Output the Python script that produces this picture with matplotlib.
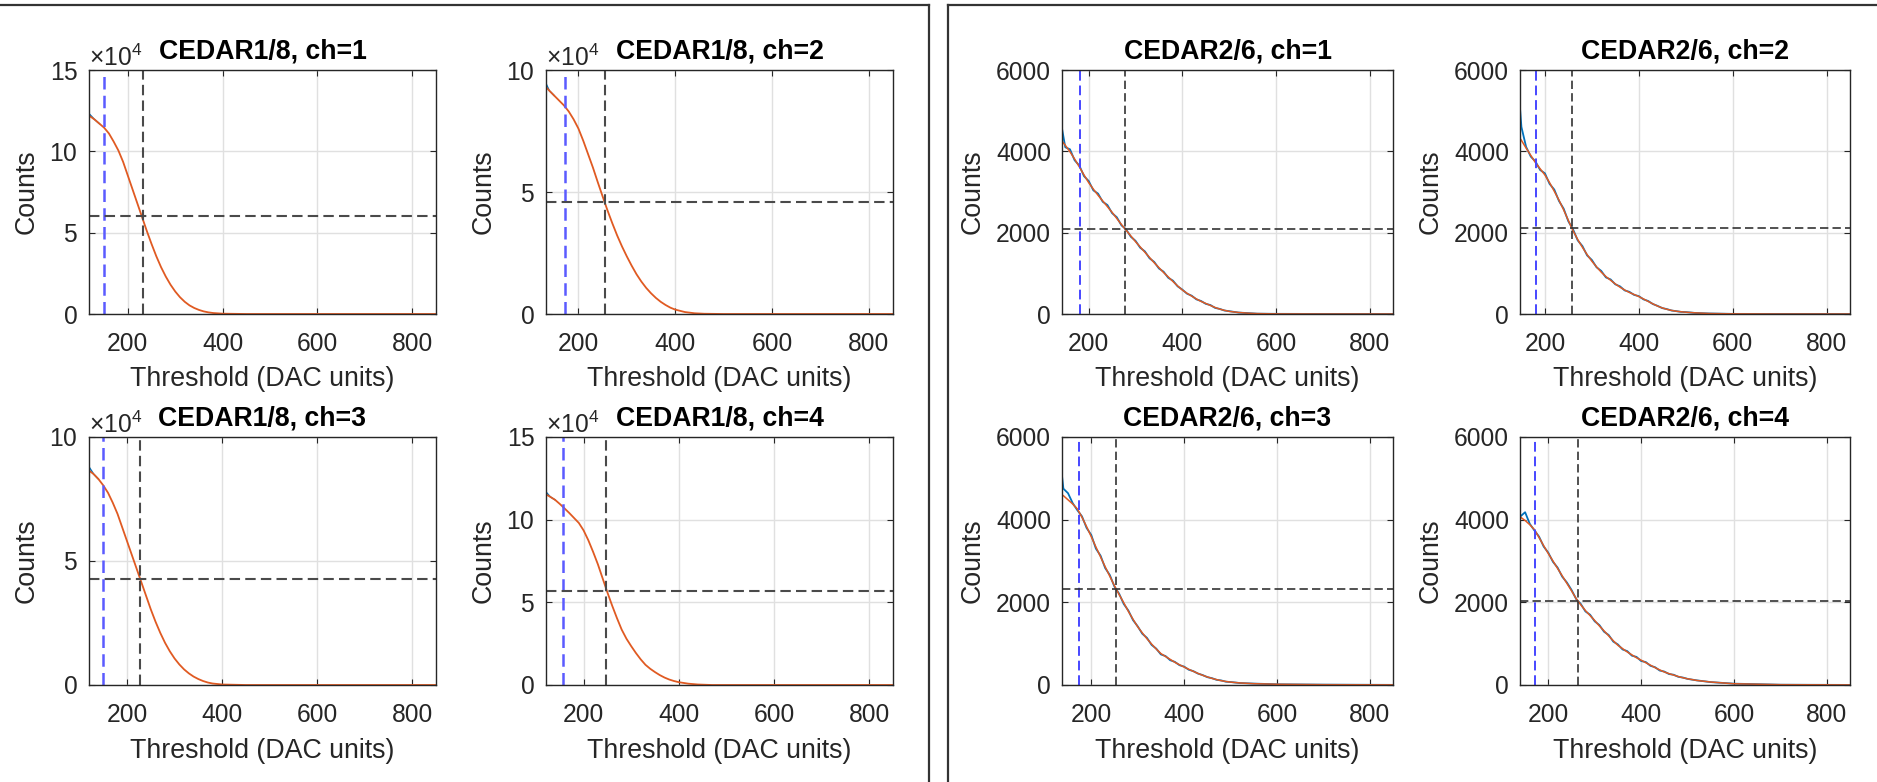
import numpy as np
import matplotlib
matplotlib.use("Agg")
import matplotlib.pyplot as plt
from matplotlib.lines import Line2D
from matplotlib.ticker import ScalarFormatter

plt.rcParams['font.family'] = ['Liberation Sans', 'DejaVu Sans']
plt.rcParams['mathtext.fontset'] = 'custom'
plt.rcParams['mathtext.rm'] = 'Liberation Sans'

W, H = 1877, 782

# ---- CEDAR1/8 (counts in units of 1e4) ----
c1_titles = ["CEDAR1/8, ch=1", "CEDAR1/8, ch=2", "CEDAR1/8, ch=3", "CEDAR1/8, ch=4"]
c1_x = [
    [118, 130, 140, 150, 160, 170, 180, 190, 200, 210, 220, 230, 240, 250, 260, 270, 280, 290,
     300, 310, 320, 330, 340, 350, 360, 370, 380, 400, 450, 850],
    [133, 140, 150, 160, 170, 180, 190, 200, 210, 220, 230, 240, 250, 260, 270, 280, 290, 300,
     310, 320, 330, 340, 350, 360, 370, 380, 390, 400, 420, 440, 460, 500, 850],
    [120, 130, 140, 150, 160, 170, 180, 190, 200, 210, 220, 230, 240, 250, 260, 270, 280, 290,
     300, 310, 320, 330, 340, 350, 360, 370, 380, 400, 450, 850],
    [121, 130, 140, 150, 160, 170, 180, 190, 200, 210, 220, 230, 240, 250, 260, 270, 280, 290,
     300, 310, 320, 330, 340, 350, 360, 370, 380, 390, 400, 420, 440, 470, 850],
]
c1_fit = [
    [12.2, 11.95, 11.7, 11.45, 11.1, 10.6, 10.05, 9.35, 8.5, 7.65, 6.8, 5.95, 5.1, 4.3, 3.55,
     2.88, 2.3, 1.8, 1.38, 1.03, 0.75, 0.53, 0.37, 0.25, 0.16, 0.10, 0.06, 0.02, 0.0, 0.0],
    [9.3, 9.15, 8.95, 8.75, 8.55, 8.3, 7.98, 7.6, 7.1, 6.55, 6.0, 5.4, 4.82, 4.25, 3.72, 3.22,
     2.77, 2.36, 1.98, 1.63, 1.33, 1.07, 0.85, 0.66, 0.5, 0.37, 0.26, 0.18, 0.08, 0.03, 0.01, 0.0, 0.0],
    [8.65, 8.5, 8.3, 8.05, 7.75, 7.35, 6.9, 6.35, 5.8, 5.25, 4.7, 4.15, 3.6, 3.05, 2.55, 2.1,
     1.7, 1.36, 1.07, 0.83, 0.63, 0.47, 0.34, 0.24, 0.16, 0.1, 0.06, 0.02, 0.0, 0.0],
    [11.53, 11.38, 11.2, 10.95, 10.68, 10.4, 10.1, 9.8, 9.35, 8.75, 8.05, 7.3, 6.45, 5.6, 4.8,
     4.05, 3.35, 2.8, 2.35, 1.93, 1.55, 1.22, 0.98, 0.78, 0.6, 0.45, 0.33, 0.24, 0.17, 0.08, 0.03, 0.0, 0.0],
]
c1_raw_first = [12.32, 9.45, 8.8, 11.68]
c1_vblue = [149, 173, 150, 156]
c1_vblack = [231, 254, 228, 248]
c1_hline = [6.0, 4.58, 4.27, 5.7]
c1_ymax = [15, 10, 10, 15]
c1_xmin = [118, 133, 120, 121]

# ---- CEDAR2/6 (counts) ----
c2_titles = ["CEDAR2/6, ch=1", "CEDAR2/6, ch=2", "CEDAR2/6, ch=3", "CEDAR2/6, ch=4"]
c2_x = [
    [143, 150] + list(range(160, 510, 10)) + [520, 540, 560, 600, 700, 850],
    [147, 150] + list(range(160, 510, 10)) + [520, 550, 600, 700, 850],
    [137, 140] + list(range(150, 510, 10)) + [520, 550, 600, 700, 850],
    [139] + list(range(150, 510, 10)) + [520, 550, 600, 700, 850],
]
c2_fit = [
    [4250, 4150, 3990, 3810, 3620, 3420, 3230, 3070, 2920, 2780, 2640, 2500, 2350, 2200, 2060,
     1920, 1780, 1650, 1520, 1390, 1260, 1140, 1020, 910, 800, 690, 590, 510, 440, 370, 310,
     260, 210, 160, 120, 90, 65, 38, 20, 10, 3, 0, 0],
    [4320, 4270, 4080, 3900, 3720, 3570, 3420, 3230, 3020, 2800, 2560, 2300, 2050, 1830, 1640,
     1460, 1300, 1160, 1030, 920, 830, 740, 660, 590, 530, 480, 430, 370, 310, 250, 195, 150,
     115, 88, 68, 55, 45, 28, 12, 4, 0, 0],
    [4600, 4580, 4480, 4380, 4260, 4060, 3830, 3590, 3340, 3100, 2860, 2630, 2400, 2190, 1990,
     1780, 1590, 1410, 1260, 1120, 990, 870, 760, 690, 620, 550, 490, 435, 380, 330, 280, 235,
     195, 160, 130, 105, 85, 70, 50, 32, 18, 8, 3],
    [4070, 3980, 3880, 3760, 3570, 3370, 3180, 3000, 2820, 2640, 2460, 2280, 2090, 1940, 1800,
     1680, 1560, 1430, 1310, 1190, 1070, 960, 880, 800, 730, 660, 600, 540, 480, 420, 365, 315,
     275, 240, 205, 175, 150, 110, 72, 30, 8, 2],
]
c2_raw = [
    [4560, 4100, 4050, 3780, 3650, 3390, 3270, 3040, 2960, 2760, 2680, 2480, 2380, 2180, 2080,
     1900, 1800, 1630, 1540, 1370, 1280, 1120, 1040, 890, 820, 680, 600, 500, 450, 360, 320,
     250, 220, 150, 125, 85, 70, 35, 22, 8, 4, 1, 0],
    [5060, 4600, 4110, 3870, 3750, 3540, 3460, 3200, 3060, 2780, 2590, 2280, 2080, 1810, 1670,
     1440, 1330, 1150, 1060, 900, 850, 730, 680, 580, 545, 470, 440, 360, 320, 245, 200, 145,
     120, 85, 70, 52, 47, 26, 13, 3, 1, 0],
    [5060, 4750, 4640, 4400, 4230, 4080, 3800, 3630, 3300, 3130, 2830, 2660, 2380, 2210, 1960,
     1800, 1570, 1420, 1240, 1140, 970, 880, 740, 700, 600, 560, 480, 445, 370, 335, 275, 240,
     190, 165, 125, 110, 80, 72, 48, 34, 17, 9, 3],
    [4070, 4180, 3900, 3740, 3590, 3350, 3200, 2980, 2840, 2620, 2480, 2300, 2080, 1960, 1780,
     1700, 1540, 1450, 1290, 1210, 1050, 980, 860, 820, 710, 680, 580, 555, 465, 430, 350, 325,
     265, 248, 198, 180, 148, 112, 70, 32, 7, 2],
]
c2_vblue = [181, 181, 173, 171]
c2_vblack = [278, 257, 254, 263]
c2_hline = [2095, 2111, 2312, 2032]
c2_xmin = [143, 147, 137, 139]

# axes boxes in pixels: left, right, top, bottom
rows = [(70, 314), (437, 685)]
c1_cols = [(89, 436), (546, 893)]
c2_cols = [(1062, 1393), (1520, 1850)]

TXT = '#262626'
BLUE = '#0072BD'
ORANGE = '#E05A22'

fig = plt.figure(figsize=(W / 100, H / 100), dpi=100)
all_axes = []
offset_texts = []


def add_ax(l, r, t, b):
    return fig.add_axes([l / W, 1 - b / H, (r - l) / W, (b - t) / H])


def style(ax, title, ylab_x):
    ax.set_xticks([200, 400, 600, 800])
    ax.grid(True, color='#e0e0e0', linewidth=1.0)
    ax.set_axisbelow(True)
    ax.tick_params(direction='in', length=4, width=0.8, top=True, right=True,
                   labelsize=17, colors=TXT)
    ax.tick_params(axis='x', pad=13)
    ax.tick_params(axis='y', pad=8)
    for s in ax.spines.values():
        s.set_color(TXT)
        s.set_linewidth(1.0)
    ax.set_title(title, fontsize=19, fontweight='bold', pad=8)
    ax.set_xlabel('Threshold (DAC units)', fontsize=19, color=TXT, va='center')
    ax.set_ylabel('Counts', fontsize=19, color=TXT, va='center')
    ax.xaxis.set_label_coords(0.5, -0.265)
    ax.yaxis.set_label_coords(ylab_x, 0.5)
    all_axes.append(ax)


for i in range(4):
    l, r = c1_cols[i % 2]
    t, b = rows[i // 2]
    ax = add_ax(l, r, t, b)
    x = np.array(c1_x[i])
    fit = np.array(c1_fit[i]) * 1e4
    raw = fit.copy()
    raw[0] = c1_raw_first[i] * 1e4
    ax.plot(x[:3], raw[:3], color=BLUE, linewidth=1.0)
    ax.plot(x, fit, color=ORANGE, linewidth=1.3)
    ax.axvline(c1_vblue[i], color='#5b5bff', linestyle=(0, (5, 2.5)), linewidth=1.8)
    ax.axvline(c1_vblack[i], color='#4a4a4a', linestyle=(0, (5, 2.5)), linewidth=1.5)
    ax.axhline(c1_hline[i] * 1e4, color='#4a4a4a', linestyle=(0, (5, 2.5)), linewidth=1.5)
    ax.set_xlim(c1_xmin[i], 850)
    ax.set_ylim(0, c1_ymax[i] * 1e4)
    ax.set_yticks(np.arange(0, c1_ymax[i] + 1, 5) * 1e4)
    fmt = ScalarFormatter(useMathText=True)
    fmt.set_powerlimits((4, 4))
    ax.yaxis.set_major_formatter(fmt)
    ax.yaxis.get_offset_text().set_color('#404040')
    offset_texts.append(ax.yaxis.get_offset_text())
    style(ax, c1_titles[i], -0.18)

for i in range(4):
    l, r = c2_cols[i % 2]
    t, b = rows[i // 2]
    ax = add_ax(l, r, t, b)
    ax.plot(c2_x[i], c2_raw[i], color=BLUE, linewidth=1.3)
    ax.plot(c2_x[i], c2_fit[i], color=ORANGE, linewidth=1.1)
    ax.axvline(c2_vblue[i], color='#4646ff', linestyle=(0, (5, 2.5)), linewidth=1.4)
    ax.axvline(c2_vblack[i], color='#333333', linestyle=(0, (5, 2.5)), linewidth=1.2)
    ax.axhline(c2_hline[i], color='#333333', linestyle=(0, (5, 2.5)), linewidth=1.2)
    ax.set_xlim(c2_xmin[i], 850)
    ax.set_ylim(0, 6000)
    ax.set_yticks([0, 2000, 4000, 6000])
    style(ax, c2_titles[i], -0.27)

# match text widths to the reference (pixel widths measured on the target)
fig.canvas.draw()
rend = fig.canvas.get_renderer()
ref = all_axes[4]
k_title = 208 / ref.title.get_window_extent(rend).width
k_label = 265 / ref.xaxis.label.get_window_extent(rend).width
tl = [t for t in ref.get_yticklabels() if t.get_text().startswith('6000')][0]
k_tick = 55 / tl.get_window_extent(rend).width
for ax in all_axes:
    ax.title.set_fontsize(19 * k_title)
    ax.xaxis.label.set_fontsize(19 * k_label)
    ax.yaxis.label.set_fontsize(19 * k_label)
    ax.tick_params(labelsize=17 * k_tick)
for ot in offset_texts:
    ot.set_fontsize(17 * k_tick)

# panel frames
fr = dict(transform=fig.transFigure, color='#333333', linewidth=1.6)
fig.add_artist(Line2D([0, 929 / W], [1 - 5 / H, 1 - 5 / H], **fr))
fig.add_artist(Line2D([929 / W, 929 / W], [1 - 5 / H, 0], **fr))
fig.add_artist(Line2D([948 / W, 948 / W], [1 - 5 / H, 0], **fr))
fig.add_artist(Line2D([948 / W, 1], [1 - 5 / H, 1 - 5 / H], **fr))

fig.savefig('out.png', dpi=100)
